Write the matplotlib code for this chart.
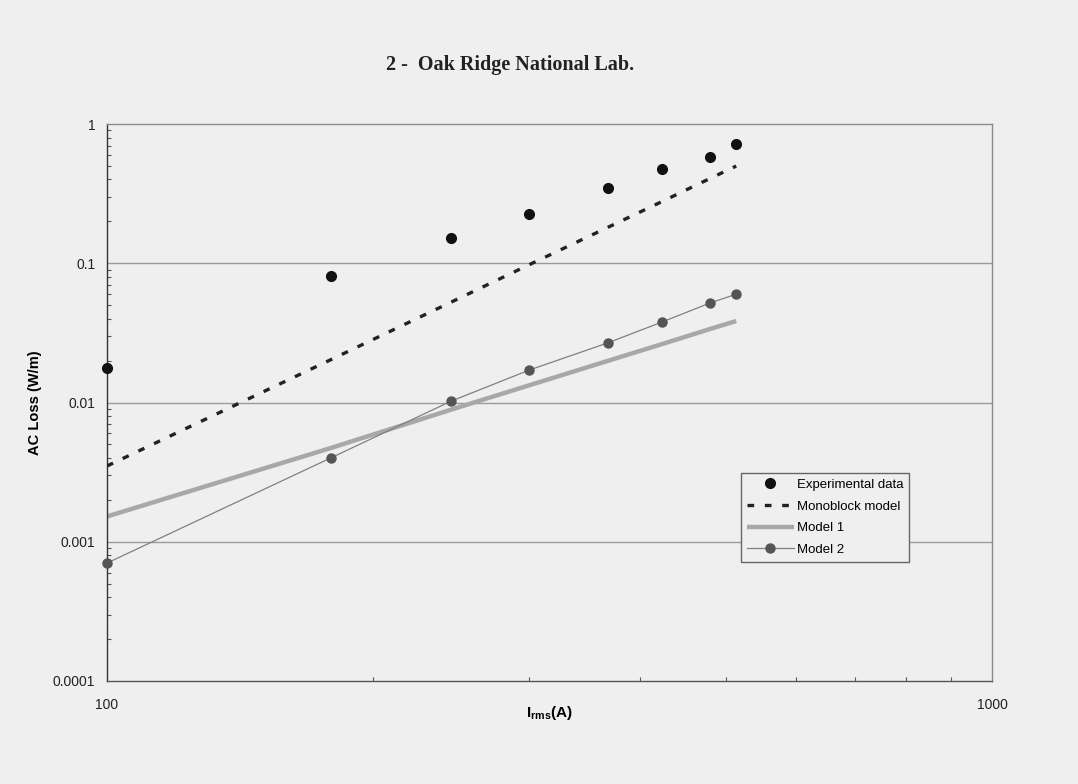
import matplotlib
matplotlib.use("Agg")
import matplotlib.pyplot as plt
from matplotlib.ticker import LogLocator, NullFormatter, FixedLocator, FixedFormatter

plt.rcParams['font.family'] = ['Liberation Sans', 'DejaVu Sans']
plt.rcParams['mathtext.fontset'] = 'custom'
plt.rcParams['mathtext.rm'] = 'Liberation Sans:bold'

# current (A)
current = [100, 179, 245, 300, 368, 424, 480, 514]
# measured and model losses (W/m)
experimental = [0.0177, 0.081, 0.152, 0.226, 0.347, 0.475, 0.579, 0.718]
monoblock = [0.0035, 0.0203, 0.0527, 0.0977, 0.181, 0.278, 0.406, 0.499]
model1 = [0.00152, 0.00471, 0.0089, 0.0133, 0.0199, 0.0263, 0.0337, 0.0385]
model2 = [0.000703, 0.0040, 0.01025, 0.0171, 0.0268, 0.0379, 0.0518, 0.060]

y_ticks = [0.0001, 0.001, 0.01, 0.1, 1]
y_tick_labels = ['0.0001', '0.001', '0.01', '0.1', '1']
x_ticks = [100, 1000]
x_tick_labels = ['100', '1000']

paper = '#efefef'
fig = plt.figure(figsize=(10.78, 7.84), dpi=100, facecolor=paper)
ax = fig.add_axes([0.0993, 0.1314, 0.8209, 0.7104])
ax.set_facecolor(paper)

ax.set_xscale('log')
ax.set_yscale('log')
ax.set_xlim(100, 1000)
ax.set_ylim(0.0001, 1)

for y in [0.001, 0.01, 0.1]:
    ax.axhline(y, color='#9a9a9a', lw=1.0, zorder=1)

ax.plot(current, model1, color='#a8a8a8', lw=3.2, label='Model 1', zorder=2,
        solid_capstyle='butt')
ax.plot(current, model2, color='#808080', lw=0.9, marker='o', ms=6.5,
        mfc='#555555', mec='#555555', label='Model 2', zorder=3, clip_on=False)
ax.plot(current, monoblock, color='#222222', lw=2.4, ls=(0, (2, 3.2)),
        label='Monoblock model', zorder=3)
ax.plot(current, experimental, ls='none', marker='o', ms=7, color='#111111',
        label='Experimental data', zorder=4, clip_on=False)

for s in ax.spines.values():
    s.set_color('#8a8a8a')
    s.set_linewidth(1.0)
ax.spines['left'].set_color('#333333')
ax.spines['bottom'].set_color('#555555')

ax.yaxis.set_major_locator(FixedLocator(y_ticks))
ax.yaxis.set_major_formatter(FixedFormatter(y_tick_labels))
ax.yaxis.set_minor_locator(LogLocator(base=10, subs=range(2, 10)))
ax.yaxis.set_minor_formatter(NullFormatter())
ax.xaxis.set_major_locator(FixedLocator(x_ticks))
ax.xaxis.set_major_formatter(FixedFormatter(x_tick_labels))
ax.xaxis.set_minor_locator(LogLocator(base=10, subs=range(2, 10)))
ax.xaxis.set_minor_formatter(NullFormatter())

ax.tick_params(axis='both', which='major', direction='in', length=0,
               labelsize=10, colors='#222222')
ax.tick_params(axis='y', which='major', pad=8.5)
ax.tick_params(axis='x', which='major', pad=12)
ax.tick_params(axis='both', which='minor', direction='in', length=3,
               color='#555555', width=0.8)

ax.set_ylabel('AC Loss (W/m)', fontsize=10.5, fontweight='bold', va='center')
ax.yaxis.set_label_coords(-0.0814, 0.5)
ax.set_xlabel(r'$\mathrm{I_{rms}}$(A)', fontsize=11, fontweight='bold',
              va='center')
ax.xaxis.set_label_coords(0.5, -0.058)

fig.text(0.473, 0.917, '2 -  Oak Ridge National Lab.', ha='center', va='center',
         fontsize=14.5, fontweight='bold', family=['Liberation Serif', 'DejaVu Serif'],
         color='#222222')

handles, labels = ax.get_legend_handles_labels()
order = [3, 2, 0, 1]
leg = ax.legend([handles[i] for i in order], [labels[i] for i in order],
                loc='upper left', bbox_to_anchor=(0.716, 0.374),
                fontsize=9.5, frameon=True, fancybox=False, framealpha=1,
                facecolor=paper, edgecolor='#666666', handlelength=3.6,
                borderpad=0.45, labelspacing=0.72, handletextpad=0.2,
                borderaxespad=0)
leg.get_frame().set_linewidth(1.0)

fig.savefig('out.png', dpi=100, facecolor=paper)
